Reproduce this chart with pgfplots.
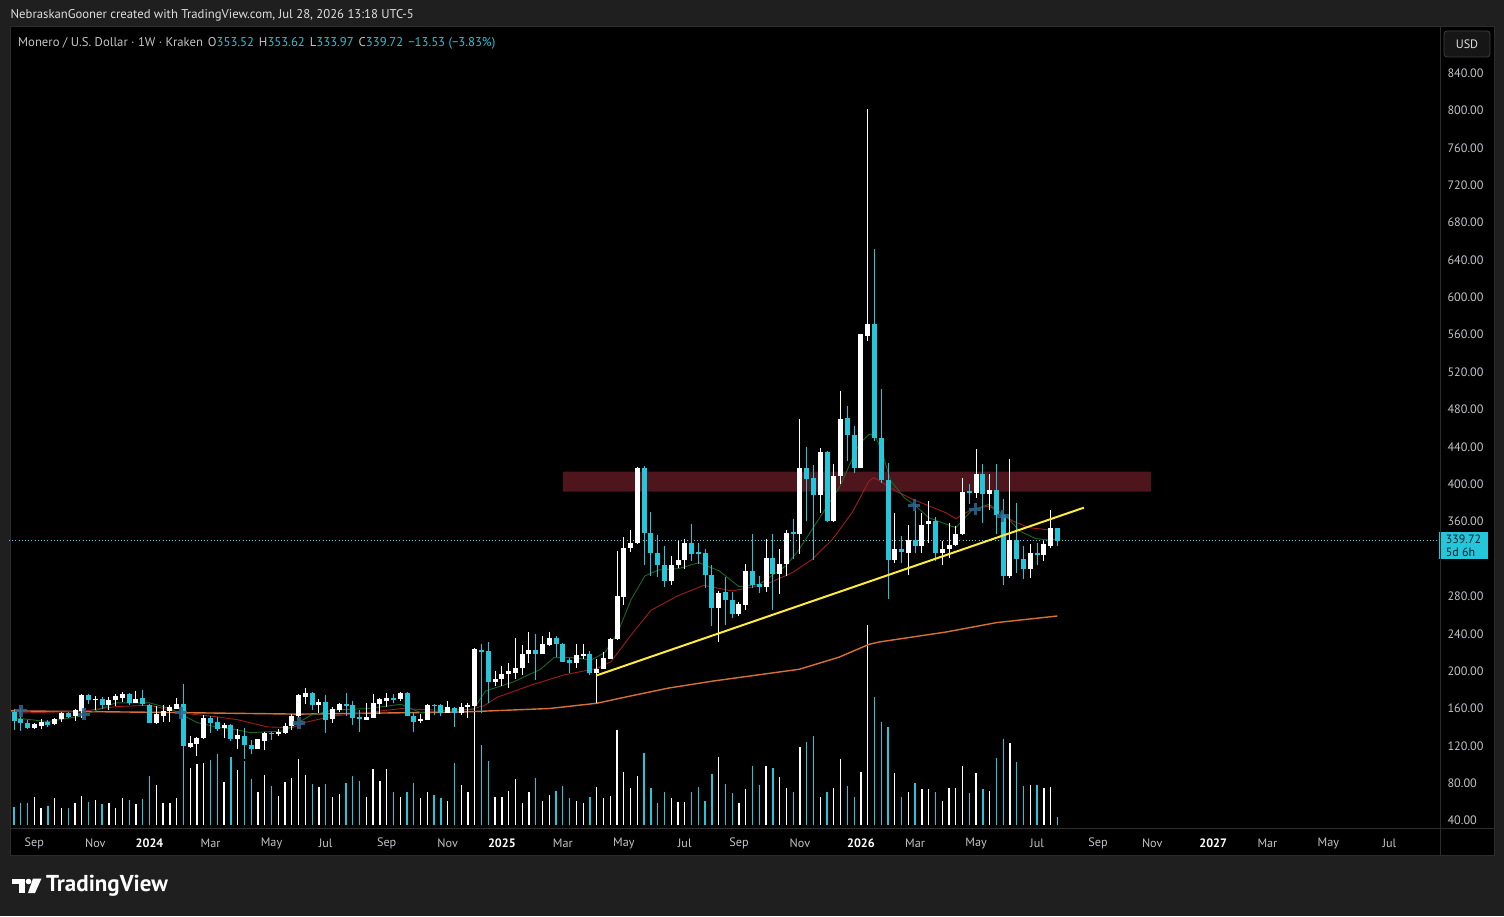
\documentclass[border=0pt]{standalone}
\usepackage{pgfplots}
\pgfplotsset{compat=1.18}
\usepackage{pgfplotstable}
\usepackage{fontspec}
\setmainfont{PT Sans}
\definecolor{outerbg}{RGB}{31,31,31}
\definecolor{chartbg}{RGB}{0,0,0}
\definecolor{bear}{RGB}{38,198,218}
\definecolor{bull}{RGB}{255,255,255}
\definecolor{txt}{RGB}{196,196,200}
\definecolor{hdr}{RGB}{222,222,222}
\definecolor{sep}{RGB}{44,44,44}
\definecolor{ma1}{RGB}{28,102,36}
\definecolor{ma2}{RGB}{160,28,28}
\definecolor{ma3}{RGB}{216,112,52}
\definecolor{zone}{RGB}{78,22,28}
\definecolor{trend}{RGB}{255,235,59}
\definecolor{xmark}{RGB}{44,104,146}
\definecolor{boxtxt}{RGB}{8,30,40}

\pgfplotstableread{
k O H L C V
-20 156.3 159.9 137.0 146.7 18
-19 148.5 161.0 136.0 144.2 21.3
-18 144.9 147.4 137.8 139.5 21.3
-17 139.3 144.9 137.8 143.1 28
-16 141.3 148.5 137.8 145.9 16.3
-15 145.6 147.4 140.6 142.0 18.7
-14 143.1 150.0 142.5 149.2 27
-13 148.5 156.3 145.6 155.6 17
-12 155.6 156.7 150.3 151.0 17
-11 152.0 159.9 146.7 158.4 21.3
-10 157.4 175.2 150.3 174.1 29
-9 174.1 175.2 164.5 169.1 22.3
-8 169.1 173.4 158.4 170.5 24.7
-7 170.5 172.7 159.2 163.4 20.3
-6 163.4 172.7 158.4 169.1 21.3
-5 169.1 175.2 162.7 173.4 16.3
-4 171.6 178.1 167.0 175.2 27
-3 175.9 177.0 163.4 166.3 24.7
-2 166.3 178.8 166.0 170.5 20.3
-1 171.6 179.9 162.7 164.5 26
0 163.8 164.5 144.3 144.9 49
1 144.9 162.7 143.1 153.8 40
2 152.0 163.8 145.9 157.4 21.3
3 157.4 163.8 145.9 161.7 21.3
4 159.9 171.6 159.2 165.2 27
5 165.2 186.6 117.0 119.9 88
6 119.2 130.6 118.1 122.8 56.3
7 121.7 129.5 109.3 128.8 60.3
8 128.1 153.1 127.8 150.3 61.3
9 150.3 152.0 134.2 144.9 64.7
10 145.6 151.3 136.0 138.5 70.3
11 139.5 144.9 128.8 142.4 43
12 142.0 143.1 125.3 127.1 68
13 127.1 138.5 116.4 131.3 54.7
14 130.6 139.5 105.7 120.6 64
15 121.3 126.3 111.0 117.1 45.7
16 117.1 127.8 116.4 127.1 33
17 125.3 134.9 115.6 134.2 49.7
18 134.2 134.9 126.3 132.4 39
19 133.1 137.8 130.6 134.9 29
20 133.5 144.9 132.4 141.3 43
21 141.3 153.8 137.0 152.0 47
22 152.0 175.2 150.3 174.1 65.7
23 172.7 182.3 164.5 177.0 49.7
24 177.0 177.7 158.4 163.4 40.7
25 163.4 169.8 155.6 167.3 38
26 167.3 174.9 134.2 147.4 40.7
27 148.5 162.0 144.2 159.9 28
28 158.4 165.6 156.3 164.5 30.7
29 164.5 177.0 152.0 163.4 42
30 164.2 168.1 142.0 149.5 49
31 150.3 158.4 134.9 149.5 44
32 147.8 165.6 147.5 151.3 28
33 150.3 175.9 150.0 166.3 55.7
34 165.2 171.6 153.8 169.8 44
35 168.1 177.0 162.0 171.6 55.7
36 171.6 175.2 165.6 169.8 33
37 169.8 177.7 168.1 177.0 28
38 177.0 177.7 151.5 152.0 33
39 152.0 156.3 135.3 146.0 42
40 147.4 153.8 144.2 148.0 27
41 147.8 164.9 147.5 163.4 33
42 163.8 165.2 152.7 162.8 29.7
43 163.4 165.2 152.0 155.6 27
44 155.6 168.1 154.9 162.0 24
45 160.9 162.0 140.6 155.6 61.3
46 155.6 166.3 152.7 162.0 39.7
47 162.4 166.3 150.3 163.4 33
48 162.7 225.1 160.0 223.3 121
49 222.3 228.7 155.6 221.2 79.7
50 221.6 231.5 166.3 188.7 64
51 188.7 200.2 184.1 192.0 28
52 191.3 205.5 184.1 196.6 28
53 196.6 208.4 182.3 200.2 34
54 198.4 235.8 191.3 203.7 45.3
55 203.7 227.6 195.5 218.7 22
56 218.0 242.3 208.4 222.3 33
57 222.3 239.4 190.2 218.7 47
58 218.7 237.6 218.0 229.4 24
59 228.0 242.3 226.9 235.8 29.7
60 235.8 237.6 215.5 228.7 34
61 229.4 230.5 209.8 210.2 39
62 211.6 213.7 197.7 208.4 26.3
63 208.4 228.7 203.7 216.9 24
64 217.3 228.7 212.7 218.0 21.3
65 218.0 221.6 195.5 198.4 28
66 198.4 212.7 166.3 202.7 37.3
67 202.7 220.8 202.4 214.5 26.3
68 213.4 235.8 213.0 234.8 29
69 234.1 328.6 233.8 280.4 94.7
70 279.7 343.6 270.4 332.1 53
71 331.4 351.1 327.5 337.5 36.3
72 336.8 418.8 336.5 417.7 49
73 417.7 419.5 313.2 347.5 72
74 348.2 370.3 301.8 326.1 36.3
75 326.8 345.3 301.1 313.9 22
76 313.9 334.0 290.4 296.8 33
77 296.8 323.2 291.8 313.9 26.3
78 313.2 339.3 310.7 318.9 23
79 318.9 341.8 309.7 336.8 23
80 336.8 357.1 317.9 325.0 33
81 327.0 337.5 314.3 325.8 37.3
82 326.1 330.4 289.3 302.5 24
83 302.9 313.6 248.3 267.2 50.7
84 267.2 285.8 231.2 284.0 68
85 285.1 301.1 249.0 276.1 40.3
86 276.1 285.1 257.2 260.8 31.3
87 260.8 274.3 259.0 271.5 21.3
88 270.4 314.3 265.4 307.2 35.3
89 307.2 346.4 289.3 291.8 58.7
90 292.9 301.8 283.3 290.0 39.7
91 290.0 341.1 284.7 321.4 58.7
92 321.4 346.4 265.4 303.6 56.3
93 303.6 331.1 282.2 315.0 48
94 314.3 351.1 301.8 348.2 36.3
95 348.5 362.5 319.7 347.2 32.3
96 346.4 470.2 325.0 417.7 77.3
97 417.7 440.2 360.7 405.3 83
98 407.0 420.2 319.0 388.1 89
99 388.1 439.1 369.6 434.5 27.3
100 434.5 435.6 360.0 360.7 33
101 360.7 421.3 360.0 408.8 36.3
102 408.9 499.8 400.7 470.2 65.3
103 471.3 483.8 424.9 452.7 38.7
104 452.7 462.3 412.4 417.0 27.3
105 417.7 561.2 417.0 560.4 53
106 558.7 801.2 553.3 571.9 200
107 571.9 651.4 446.3 449.2 128
108 449.2 501.6 401.7 404.2 103
109 404.2 423.1 276.9 318.6 98
110 318.9 369.6 315.4 331.1 52
111 331.1 344.6 316.1 327.5 28
112 326.8 356.0 302.5 340.3 33
113 340.3 378.5 326.8 333.9 42
114 333.9 369.6 326.8 356.4 35.3
115 357.1 382.1 337.5 360.7 35.3
116 360.7 365.3 317.9 326.1 33
117 326.1 339.3 313.2 331.1 24
118 330.4 358.9 321.4 335.0 36.3
119 334.6 355.3 333.9 347.1 36.3
120 346.4 407.0 346.0 391.7 58.7
121 392.8 399.9 378.5 391.0 32
122 391.0 438.1 385.6 410.6 52
123 410.6 421.3 358.9 389.2 35.3
124 389.2 410.6 372.4 393.5 34
125 393.5 421.3 346.4 366.7 67
126 366.7 384.6 291.8 301.8 85.3
127 301.8 426.7 300.0 340.3 82
128 340.3 380.3 305.4 319.7 63
129 320.4 333.9 299.0 309.7 39
130 309.7 335.7 300.0 326.8 39.7
131 326.8 336.8 313.2 323.9 39.7
132 323.9 339.3 317.9 336.4 36.3
133 333.9 372.4 332.1 353.5 37.3
134 353.52 353.62 333.97 339.72 7.3
}\candles

\begin{document}
\begin{tikzpicture}[x=1pt,y=1pt]
\fill[outerbg] (0,0) rectangle (1504,916);
\fill[chartbg] (10,61) rectangle (1494,889);

% volume
\begin{axis}[at={(13.333,91.333)}, anchor=south west, scale only axis,
  width=1430pt, height=800pt, hide axis,
  xmin=-20.74, xmax=190.33, ymin=0, ymax=800]
\addplot[draw=none, restrict expr to domain={\thisrow{C}-\thisrow{O}}{0:10000},
  error bars/.cd, y dir=both, y explicit, error mark=none,
  error bar style={draw=bull, line width=1.3pt}]
  table[x=k, y expr={\thisrow{V}/2}, y error expr={\thisrow{V}/2}] {\candles};
\addplot[draw=none, restrict expr to domain={\thisrow{O}-\thisrow{C}}{0.001:10000},
  error bars/.cd, y dir=both, y explicit, error mark=none,
  error bar style={draw=bear, line width=1.3pt}]
  table[x=k, y expr={\thisrow{V}/2}, y error expr={\thisrow{V}/2}] {\candles};
\end{axis}

% price
\begin{axis}[at={(13.333,91.333)}, anchor=south west, scale only axis,
  width=1430pt, height=800pt, clip=false,
  xmin=-20.74, xmax=190.33, ymin=29.30, ymax=885.37,
  axis line style={draw=none}, major tick length=0pt, tick style={draw=none},
  ytick={40,80,120,160,200,240,280,360,400,440,480,520,560,600,640,680,720,760,800,840},
  yticklabel pos=right,
  yticklabel style={anchor=west, xshift=5pt, text=txt, font=\fontsize{12.2}{13}\selectfont,
    /pgf/number format/.cd, fixed, fixed zerofill, precision=2, assume math mode=true},
  xtick={-17,-8,0,9,18,26,35,44,52,61,70,79,87,96,105,113,122,131,140,148,157,165,174,183},
  xticklabels={Sep,Nov,{\bfseries\color{white}2024},Mar,May,Jul,Sep,Nov,{\bfseries\color{white}2025},Mar,May,Jul,Sep,Nov,{\bfseries\color{white}2026},Mar,May,Jul,Sep,Nov,{\bfseries\color{white}2027},Mar,May,Jul},
  xticklabel style={anchor=center, yshift=-13pt, text=txt, font=\fontsize{12.2}{13}\selectfont},
]
% resistance zone
\addplot[fill=zone, draw=none] coordinates {(61,392.1)(147.8,392.1)(147.8,413.5)(61,413.5)(61,392.1)};
% last price line
\addplot[bear!80!white, line width=0.9pt, dash pattern=on 1pt off 2.2pt] coordinates {(-20.74,339.72)(190.33,339.72)};
% moving averages
\addplot[ma3, line width=1.4pt] coordinates {(-20.5,157.5)(0,156)(22,154)(46.4,156.3)(59,160)(66,165.6)(71,173.4)(76.7,182)(83.3,189.5)(95.9,202)(101.8,215)(106.2,228.7)(107.7,231.2)(117.6,241.9)(125,251.9)(134,259)};
\addplot[ma2, line width=0.9pt] coordinates {(-20,155)(-10,157)(-5,162)(0,163.5)(5,155)(10,151)(13,148)(17.4,140.3)(21.1,139.5)(22.8,144.9)(27.2,152)(32.1,155.6)(37.1,159.9)(42,158.4)(47,158.4)(49.4,163)(51.3,172)(56.3,185)(61.2,196)(66.1,203)(68.1,210)(71,238)(74,265)(77.9,280.4)(81.8,291.8)(86,285.8)(91,292.9)(94.9,305.4)(97.8,319.7)(100.8,341.1)(103.7,369.6)(106.2,403.5)(106.9,407)(108.2,401.7)(110.1,392.8)(112.6,384)(117.5,369.6)(119,363.2)(121.4,373.2)(123.9,376.7)(127.4,360.7)(129.8,353.5)(132.8,351.1)(134,351)};
\addplot[ma1, line width=0.9pt] coordinates {(-20,150)(-15,146)(-10,152)(-5,166)(0,166)(3,160)(7,145)(10,140)(13,137)(14.9,134.2)(19.9,136)(23.8,152.7)(27.2,158.4)(32.1,159.9)(37.1,164.5)(40,155.6)(44.4,158.4)(47.8,159.2)(49.6,178.8)(53.7,188.4)(57.7,202)(59.7,214.5)(62.2,214.5)(65.2,212)(67.2,219.8)(69.1,241.2)(71.1,276.9)(73.1,301.8)(75.1,308.2)(78.1,309.7)(81.1,316.1)(84.1,307.2)(87,290.4)(90,292.9)(93.9,312.5)(95.9,330.4)(97.8,351.8)(101.8,396.3)(104.7,442.7)(106.2,453.4)(107,452.7)(107.9,439.2)(109.4,403.5)(111.4,385.6)(113.1,376.7)(115,364.2)(119,353.5)(121.4,372.4)(123.9,378.5)(126.4,366)(128.4,350)(130.8,341.8)(132.8,340.3)(134,341)};
% wicks
\addplot[draw=none, restrict expr to domain={\thisrow{C}-\thisrow{O}}{0:10000},
  error bars/.cd, y dir=both, y explicit, error mark=none,
  error bar style={draw=bull, line width=1pt}]
  table[x=k, y expr={(\thisrow{H}+\thisrow{L})/2}, y error expr={(\thisrow{H}-\thisrow{L})/2}] {\candles};
\addplot[draw=none, restrict expr to domain={\thisrow{O}-\thisrow{C}}{0.001:10000},
  error bars/.cd, y dir=both, y explicit, error mark=none,
  error bar style={draw=bear, line width=1pt}]
  table[x=k, y expr={(\thisrow{H}+\thisrow{L})/2}, y error expr={(\thisrow{H}-\thisrow{L})/2}] {\candles};
% bodies
\addplot[draw=none, restrict expr to domain={\thisrow{C}-\thisrow{O}}{0:10000},
  error bars/.cd, y dir=both, y explicit, error mark=none,
  error bar style={draw=bull, line width=5pt}]
  table[x=k, y expr={(\thisrow{O}+\thisrow{C})/2}, y error expr={max(abs(\thisrow{C}-\thisrow{O})/2,0.8)}] {\candles};
\addplot[draw=none, restrict expr to domain={\thisrow{O}-\thisrow{C}}{0.001:10000},
  error bars/.cd, y dir=both, y explicit, error mark=none,
  error bar style={draw=bear, line width=5pt}]
  table[x=k, y expr={(\thisrow{O}+\thisrow{C})/2}, y error expr={max(abs(\thisrow{C}-\thisrow{O})/2,0.8)}] {\candles};
% trend line
\addplot[trend, line width=2pt] coordinates {(65.9,195.2)(137.9,374.9)};
% MA cross markers
\addplot[only marks, mark=+, mark size=6pt, mark options={line width=3.6pt, draw=xmark, opacity=0.85}]
  coordinates {(-19,157.7)(-9.7,153.7)(4.6,155.6)(22.1,144.2)(112.9,377.4)(121.9,373.1)(125.9,366)};
% last price box
\node[anchor=north west, fill=bear, inner xsep=3pt, inner ysep=2.5pt, minimum width=48.5pt,
  align=left, text=boxtxt, font=\fontsize{12}{13.5}\selectfont] at (axis cs:190.33,339.72) [yshift=8.8pt]
  {339.72\\5d 6h};
\end{axis}

% separators and frame
\draw[sep, line width=1pt] (1440,61) -- (1440,889);
\draw[sep, line width=1pt] (10,88) -- (1494,88);
\draw[sep, line width=1pt] (10,61) rectangle (1494,889);

% USD button
\draw[fill={rgb,255:red,22;green,22;blue,22}, draw={rgb,255:red,62;green,62;blue,62}, rounded corners=3pt, line width=0.8pt]
  (1444,859) rectangle (1490,885);
\node[text=hdr, font=\fontsize{12.2}{13}\selectfont] at (1467,872) {USD};

% header
\node[anchor=west, inner sep=0pt, text=hdr, font=\fontsize{12.7}{14}\selectfont] at (10.5,901)
  {NebraskanGooner created with TradingView.com, Jul 28, 2026 13:18 UTC-5};
\node[anchor=west, inner sep=0pt, text=txt, font=\fontsize{12.7}{14}\selectfont] at (18,873)
  {Monero / U.S. Dollar · 1W · Kraken\hspace{5pt}O\textcolor{bear}{353.52}\hspace{5pt}H\textcolor{bear}{353.62}\hspace{5pt}L\textcolor{bear}{333.97}\hspace{5pt}C\textcolor{bear}{339.72}\hspace{5pt}\textcolor{bear}{−13.53 (−3.83\%)}};

% footer logo
\fill[white] (12,32) rectangle (24.5,37.5);
\fill[white] (18.5,23) rectangle (24.5,37.5);
\fill[white] (28.5,34.5) circle (2.8);
\fill[white] (33,37.5) -- (41.5,37.5) -- (35,23) -- (28,23) -- cycle;
\node[anchor=west, inner sep=0pt, text=white, font=\fontsize{23}{25}\selectfont\bfseries] at (46,30) {TradingView};
\end{tikzpicture}
\end{document}
